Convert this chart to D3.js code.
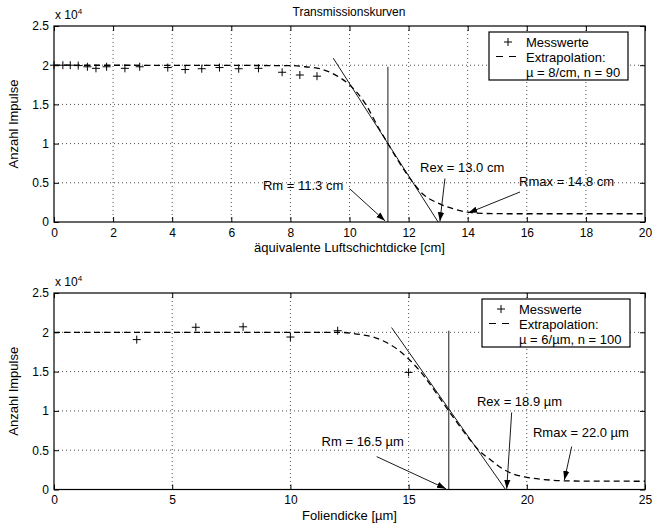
<html>
<head>
  <style>
    body { margin: 0; background: white; }
    svg { font-family: "Liberation Sans", Arial, Helvetica, sans-serif; }
    .grid line { stroke: #000; stroke-dasharray: 1,3; stroke-width: 0.7; }
  </style>
  <script src="https://d3js.org/d3.v7.min.js"></script>
</head>
<body>
<svg id="chart"></svg>
<script>
  // --- upper panel: air (cm) ---
  let airX = [0, 0.3, 0.55, 0.82, 1.13, 1.42, 1.78, 2.4, 2.9, 3.85, 4.44, 5.0, 5.6, 6.25, 6.92, 7.72, 8.32, 8.9]
  let airY = [20000, 20000, 20000, 19950, 19800, 19600, 19800, 19600, 19800, 19700, 19450, 19550, 19700, 19550, 19600, 19100, 18750, 18600]
  let airFitX = [0, 8, 8.5, 9, 9.5, 10, 10.5, 11, 11.3, 11.6, 12, 12.5, 13, 13.5, 14, 14.5, 15, 16, 20]
  let airFitY = [20000, 19950, 19800, 19550, 18800, 17500, 15300, 11900, 10000, 8100, 5800, 3500, 2400, 1700, 1250, 1100, 1060, 1050, 1050]
  let airTangent = [[9.45, 20900], [13.0, 0]]
  let airRm = [[11.3, 0], [11.3, 19800]]
  let airNotes = [
    {text: "Rm = 11.3 cm", x: 7.07, y: 4050, from: [10.0, 4260], to: [11.2, 150]},
    {text: "Rex = 13.0 cm", x: 12.39, y: 6340, from: [13.23, 5540], to: [13.06, 100]},
    {text: "Rmax = 14.8 cm", x: 15.74, y: 4620, from: [15.77, 3830], to: [14.02, 1150]}
  ]
  let airXTicks = [0, 2, 4, 6, 8, 10, 12, 14, 16, 18, 20]

  // --- lower panel: foil (µm) ---
  let foilX = [3.5, 6, 8, 10, 12, 15]
  let foilY = [19070, 20640, 20700, 19400, 20200, 14900]
  let foilFitX = [0, 12, 13, 13.5, 14, 14.5, 15, 15.5, 16, 16.7, 17.5, 18, 18.5, 19, 19.5, 20, 21, 22, 25]
  let foilFitY = [20000, 20000, 19700, 19400, 18800, 17900, 16600, 15000, 13000, 10000, 6700, 4900, 3700, 2600, 1900, 1550, 1200, 1080, 1050]
  let foilTangent = [[14.28, 20600], [19.1, 0]]
  let foilRm = [[16.7, 0], [16.7, 20200]]
  let foilNotes = [
    {text: "Rm = 16.5 \u00b5m", x: 11.32, y: 5480, from: [13.65, 4180], to: [16.58, 100]},
    {text: "Rex = 18.9 \u00b5m", x: 17.89, y: 10590, from: [19.36, 9800], to: [19.15, 80]},
    {text: "Rmax = 22.0 \u00b5m", x: 20.26, y: 6700, from: [21.9, 5460], to: [21.59, 1210]}
  ]
  let foilXTicks = [0, 5, 10, 15, 20, 25]

  let yTicks = [0, 5000, 10000, 15000, 20000, 25000]

  let width = 653, height = 531
  let svg = d3.select("#chart").attr("width", width).attr("height", height)

  svg.append("defs").append("marker")
    .attr("id", "arrow")
    .attr("viewBox", "0 0 10 10")
    .attr("refX", 10).attr("refY", 5)
    .attr("markerWidth", 9).attr("markerHeight", 9)
    .attr("markerUnits", "userSpaceOnUse")
    .attr("orient", "auto")
    .append("path").attr("d", "M0,1.5 L10,5 L0,8.5 Z").attr("fill", "#000")

  svg.append("text")
    .attr("x", 349).attr("y", 16)
    .attr("text-anchor", "middle").attr("font-size", 12)
    .text("Transmissionskurven")

  function drawPanel(cfg) {
    let {top, bottom, left, right, xMax} = cfg
    let x = d3.scaleLinear().domain([0, xMax]).range([left, right])
    let y = d3.scaleLinear().domain([0, 25000]).range([bottom, top])
    let g = svg.append("g")

    // grid
    let grid = g.append("g").attr("class", "grid")
    grid.selectAll(".gx").data(cfg.xTicks.slice(1, -1)).enter().append("line")
      .attr("x1", d => x(d)).attr("x2", d => x(d)).attr("y1", top).attr("y2", bottom)
    grid.selectAll(".gy").data(yTicks.slice(1, -1)).enter().append("line")
      .attr("x1", left).attr("x2", right).attr("y1", d => y(d)).attr("y2", d => y(d))

    // axes with inward ticks on all sides
    g.append("g").attr("transform", `translate(0,${bottom})`)
      .call(d3.axisBottom(x).tickValues(cfg.xTicks).tickSizeInner(-5).tickSizeOuter(0).tickPadding(6))
    g.append("g").attr("transform", `translate(0,${top})`)
      .call(d3.axisTop(x).tickValues(cfg.xTicks).tickSizeInner(-5).tickSizeOuter(0).tickFormat(""))
    g.append("g").attr("transform", `translate(${left},0)`)
      .call(d3.axisLeft(y).tickValues(yTicks).tickSizeInner(-5).tickSizeOuter(0).tickPadding(5).tickFormat(d => d / 10000))
    g.append("g").attr("transform", `translate(${right},0)`)
      .call(d3.axisRight(y).tickValues(yTicks).tickSizeInner(-5).tickSizeOuter(0).tickFormat(""))
    g.selectAll(".tick text").attr("font-size", 12).attr("font-family", null).attr("fill", "#000")
    g.selectAll(".domain").remove()
    g.append("rect")
      .attr("x", left).attr("y", top).attr("width", right - left).attr("height", bottom - top)
      .attr("fill", "none").attr("stroke", "#000").attr("stroke-width", 1.2)

    // exponent label
    let ex = g.append("text").attr("x", left + 1).attr("y", top - 7).attr("font-size", 12)
    ex.append("tspan").text("x 10")
    ex.append("tspan").attr("font-size", 8).attr("dy", -5).text("4")

    // axis labels
    g.append("text")
      .attr("transform", `translate(18,${(top + bottom) / 2}) rotate(-90)`)
      .attr("text-anchor", "middle").attr("font-size", 13)
      .text("Anzahl Impulse")
    g.append("text")
      .attr("x", (left + right) / 2).attr("y", bottom + 30)
      .attr("text-anchor", "middle").attr("font-size", 13)
      .text(cfg.xLabel)

    let line = d3.line().x(d => x(d[0])).y(d => y(d[1]))

    // fitted curve
    g.append("path")
      .datum(d3.zip(cfg.fitX, cfg.fitY))
      .attr("d", line.curve(d3.curveMonotoneX))
      .attr("fill", "none").attr("stroke", "#000").attr("stroke-width", 1.3)
      .attr("stroke-dasharray", "6,4")
    line.curve(d3.curveLinear)

    // tangent and Rm line
    g.append("path").datum(cfg.tangent).attr("d", line)
      .attr("fill", "none").attr("stroke", "#000").attr("stroke-width", 0.9)
    g.append("path").datum(cfg.rm).attr("d", line)
      .attr("fill", "none").attr("stroke", "#000").attr("stroke-width", 0.9)

    // measured values
    g.selectAll(".pt").data(d3.zip(cfg.ptX, cfg.ptY)).enter().append("path")
      .attr("d", d => `M${x(d[0]) - 4},${y(d[1])}h8M${x(d[0])},${y(d[1]) - 4}v8`)
      .attr("stroke", "#000").attr("stroke-width", 1)

    // annotations
    cfg.notes.forEach(n => {
      g.append("text").attr("x", x(n.x)).attr("y", y(n.y)).attr("font-size", 13).text(n.text)
      g.append("line")
        .attr("x1", x(n.from[0])).attr("y1", y(n.from[1]))
        .attr("x2", x(n.to[0])).attr("y2", y(n.to[1]))
        .attr("stroke", "#000").attr("stroke-width", 0.9)
        .attr("marker-end", "url(#arrow)")
    })

    // legend
    let lg = g.append("g").attr("transform", `translate(${cfg.legend[0]},${cfg.legend[1]})`)
    lg.append("rect").attr("width", cfg.legend[2]).attr("height", 48)
      .attr("fill", "#fff").attr("stroke", "#000").attr("stroke-width", 1.2)
    lg.append("path").attr("d", "M15,10h8M19,6v8").attr("stroke", "#000")
    lg.append("line").attr("x1", 7).attr("x2", 31).attr("y1", 24.5).attr("y2", 24.5)
      .attr("stroke", "#000").attr("stroke-width", 1.2).attr("stroke-dasharray", "7,6")
    let rows = ["Messwerte", "Extrapolation:", cfg.legendNote]
    lg.selectAll(".lt").data(rows).enter().append("text")
      .attr("x", 37).attr("y", (d, i) => 14.5 + i * 15.3)
      .attr("font-size", 13).text(d => d)
  }

  drawPanel({
    top: 26, bottom: 222, left: 54, right: 645, xMax: 20,
    xTicks: airXTicks, xLabel: "\u00e4quivalente Luftschichtdicke [cm]",
    fitX: airFitX, fitY: airFitY, tangent: airTangent, rm: airRm,
    ptX: airX, ptY: airY, notes: airNotes,
    legend: [489, 32, 139], legendNote: "\u00b5 = 8/cm, n = 90"
  })

  drawPanel({
    top: 293, bottom: 489.5, left: 54, right: 645, xMax: 25,
    xTicks: foilXTicks, xLabel: "Foliendicke [\u00b5m]",
    fitX: foilFitX, fitY: foilFitY, tangent: foilTangent, rm: foilRm,
    ptX: foilX, ptY: foilY, notes: foilNotes,
    legend: [482, 299, 148], legendNote: "\u00b5 = 6/\u00b5m, n = 100"
  })
</script>
</body>
</html>
